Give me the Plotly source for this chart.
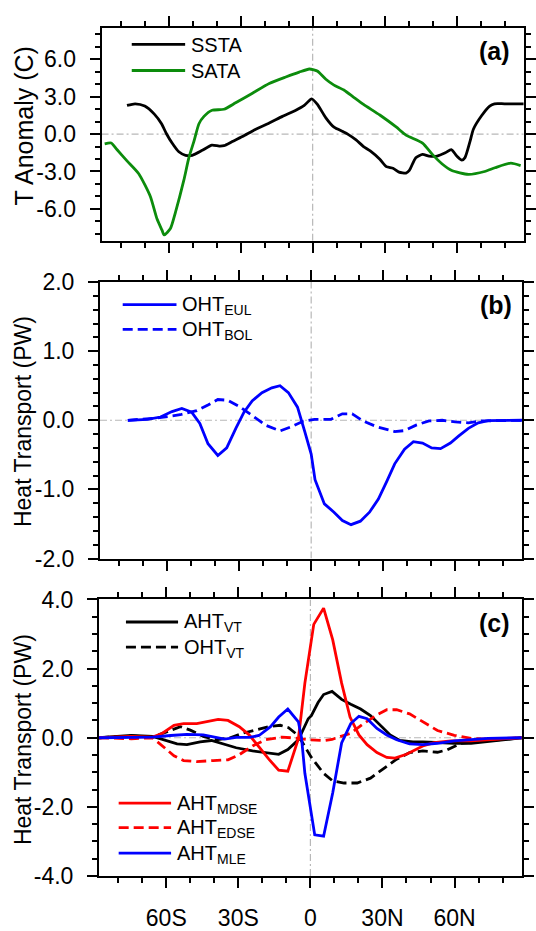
import plotly.graph_objects as go

# ---------------- data ----------------
# Panel (a): temperature anomalies (C)
ssta_lat = [-77.4, -74, -70, -66, -63, -61, -58.6, -55.8, -53, -50.2, -46, -42, -39, -37, -33.5,
            -29.3, -23.7, -18.1, -12.6, -7, -3.5, -0.4, 2.1, 5.5, 8.9, 12.6, 14.6, 18.1, 21.2, 24,
            28, 30.7, 33.5, 36, 38.9, 40.3, 43, 45.8, 48.5, 51.9, 55.3, 57.8, 60.1, 62.2, 63.5,
            65.6, 67, 70.4, 73.8, 75.8, 80, 88]
ssta = [2.3, 2.43, 2.25, 1.6, 0.83, 0.05, -0.72, -1.42, -1.7, -1.7, -1.3, -0.88, -0.96, -0.93, -0.6,
        -0.2, 0.39, 0.88, 1.42, 1.91, 2.3, 2.83, 2.35, 1.3, 0.55, 0.2, 0.0, -0.47, -1.0, -1.35,
        -2.02, -2.61, -2.74, -3.05, -3.13, -2.92, -1.89, -1.63, -1.76, -1.76, -1.5, -1.24, -1.76, -2.09, -1.89,
        -0.59, 0.39, 1.47, 2.25, 2.43, 2.43, 2.43]

sata_lat = [-86.7, -84, -81.6, -77.4, -72.5, -67.7, -64.9, -62.8, -61.9, -59.3, -57.2, -53.7, -51.6,
            -49.5, -47.4, -45.3, -41.9, -37, -32.1, -25.1, -18.1, -11.2, -5.6, -1.4, 0.5, 2.1, 5.5,
            8.9, 13, 17, 21.2, 28, 34.8, 38.9, 45.8, 49.9, 54, 58, 64.9, 71.7, 76, 82.6, 86.7]
sata = [-0.78, -0.72, -1.24, -2.15, -3.18, -4.99, -6.8, -7.71, -8.09, -7.58, -6.28, -3.7, -1.89,
        -0.59, 0.83, 1.42, 1.91, 1.99, 2.51, 3.28, 4.06, 4.58, 4.97, 5.22, 5.15, 5.04, 4.4,
        3.93, 3.54, 2.97, 2.38, 1.53, 0.57, -0.08, -0.72, -1.63, -2.4, -2.92, -3.23, -3.0, -2.7, -2.33, -2.53]

# Panel (b): ocean heat transport (PW)
oht_eul_lat = [-76.4, -68.2, -62.8, -58, -53.9, -49.8, -46.4, -43, -38.9, -35.2, -31.4, -28, -24.6,
               -20.5, -16.4, -13, -9.5, -5.7, -2.7, 0, 1.6, 5.5, 9.5, 13, 16.6, 20.5, 24.3, 28,
               31.4, 34.8, 38.9, 42.6, 46.4, 50.2, 53.9, 58, 61.4, 65.5, 69.6, 73.7, 88]
oht_eul = [0, 0.014, 0.047, 0.126, 0.17, 0.117, -0.047, -0.34, -0.51, -0.4, -0.117, 0.117, 0.28,
           0.4, 0.47, 0.5, 0.4, 0.19, -0.16, -0.49, -0.86, -1.21, -1.33, -1.45, -1.51, -1.46, -1.33, -1.14,
           -0.89, -0.63, -0.42, -0.31, -0.33, -0.4, -0.41, -0.33, -0.23, -0.117, -0.037, -0.005, 0]

oht_bol_lat = [-76.4, -64.1, -54.6, -47.7, -43, -38.9, -34.8, -30, -24.6, -19.1, -13, -8.2, -3.4,
               1.4, 8.2, 13, 17.1, 21.8, 27.3, 34.8, 38.9, 43.7, 49.1, 54.6, 60, 65.5, 70.9, 88]
oht_bol = [0, 0.033, 0.08, 0.14, 0.22, 0.3, 0.29, 0.2, 0.07, -0.07, -0.154, -0.093, -0.014,
           0.014, 0.014, 0.093, 0.093, -0.014, -0.093, -0.163, -0.15, -0.07, -0.009, 0, -0.023, -0.037, -0.01, 0]

# Panel (c): atmosphere / ocean heat transport (PW)
aht_vt_lat = [-88, -74.6, -65.7, -60.9, -55.5, -51.4, -45.9, -41.2, -36.4, -30.9, -24.1, -18.7, -13.2,
              -9.4, -5, -0.9, 0.4, 3.2, 5.5, 9, 13, 16.8, 20.9, 25, 29.1, 33.2, 37.2, 42.7, 46.8,
              52.9, 59.9, 66.9, 73.9, 80.9, 88]
aht_vt = [0, 0.065, 0.04, -0.06, -0.18, -0.2, -0.12, -0.08, -0.18, -0.29, -0.38, -0.43, -0.48,
          -0.34, -0.06, 0.55, 0.64, 1.02, 1.25, 1.34, 1.11, 0.97, 0.83, 0.64, 0.36, 0.08, -0.08, -0.12, -0.12,
          -0.14, -0.16, -0.16, -0.11, -0.04, 0]

oht_vt_lat = [-88, -74.6, -65.7, -59.6, -54.1, -50, -44.6, -39.1, -33.7, -28.2, -22.7, -17.3, -12.5,
              -9.1, -5, 0.4, 5.5, 9.3, 14, 19.5, 25, 30.4, 35.9, 41.3, 46.8, 52.9, 57, 62.7, 69.7, 78.1, 88]
oht_vt = [0, 0.05, 0.02, 0.18, 0.32, 0.22, 0.04, -0.06, -0.01, 0.13, 0.22, 0.32, 0.36,
          0.29, 0.06, -0.57, -1.03, -1.25, -1.31, -1.31, -1.17, -0.9, -0.62, -0.43, -0.38, -0.42, -0.35, -0.16, -0.11, -0.065, 0]

aht_mdse_lat = [-88, -74.6, -65.7, -61.6, -56.8, -52.8, -47.3, -43.2, -38.4, -34.3, -29.6, -25.5, -21.4,
                -17.3, -13.2, -9.4, -5, -2.3, 1.4, 5.5, 9.3, 13, 16.5, 20.2, 23.6, 27.7, 31.8, 35.2,
                40, 46.8, 51.5, 58.5, 66.9, 73.9, 88]
aht_mdse = [0, 0.04, 0.02, 0.13, 0.36, 0.41, 0.41, 0.46, 0.53, 0.5, 0.32, 0.084, -0.27,
            -0.62, -0.94, -0.97, -0.03, 1.58, 3.28, 3.75, 2.83, 1.58, 0.6, 0.08, -0.2, -0.43, -0.57, -0.59,
            -0.48, -0.24, -0.14, -0.09, -0.09, -0.065, 0]

aht_edse_lat = [-88, -74.6, -65.7, -60.9, -56.8, -52.8, -47.3, -40.5, -34.3, -29.6, -24.1, -18.7, -11.8,
                -6.4, 0, 5.9, 9, 12.7, 16.8, 22.2, 27.7, 31.8, 35.9, 41.3, 46.8, 52.9, 59.9, 66.9, 73.9, 88]
aht_edse = [0, -0.03, 0, -0.29, -0.52, -0.66, -0.69, -0.66, -0.64, -0.49, -0.24, -0.06, 0.02,
            -0.01, -0.06, -0.08, -0.05, 0.04, 0.13, 0.41, 0.66, 0.81, 0.81, 0.69, 0.46, 0.21, 0.07, -0.02, -0.04, 0]

aht_mle_lat = [-88, -74.6, -65.7, -58.2, -51.4, -44.6, -40.5, -35.7, -30.9, -25.5, -21.4, -16.6, -13.2,
               -9.4, -5, -3.7, -2.3, 1.8, 5.5, 9.3, 13, 16.8, 20.2, 23.6, 27.7, 31.8, 35.9, 41.3, 46.8,
               52.9, 59.9, 66.9, 73.9, 88]
aht_mle = [0, 0, 0.02, 0.065, 0.1, 0.08, 0.02, -0.04, 0.01, 0.01, 0.065, 0.32, 0.6,
           0.83, 0.46, 0, -1.03, -2.81, -2.85, -1.59, -0.15, 0.41, 0.62, 0.55, 0.27, 0.08, -0.06, -0.18, -0.2,
           -0.16, -0.09, -0.065, -0.02, 0]

x_tickvals = [-60, -30, 0, 30, 60]
x_ticktext = ["60S", "30S", "0", "30N", "60N"]
x_minor = [-80, -70, -50, -40, -20, -10, 10, 20, 40, 50, 70, 80]

ya_tickvals = [-6, -3, 0, 3, 6]
ya_ticktext = ["-6.0", "-3.0", "0.0", "3.0", "6.0"]
yb_tickvals = [-2, -1, 0, 1, 2]
yb_ticktext = ["-2.0", "-1.0", "0.0", "1.0", "2.0"]
yc_tickvals = [-4, -2, 0, 2, 4]
yc_ticktext = ["-4.0", "-2.0", "0.0", "2.0", "4.0"]

# ---------------- figure ----------------
W, H = 536, 931
FONT = "Liberation Sans, Arial, Helvetica, sans-serif"
GREEN = "#0c8c0c"
DASH = "10px,5px"
LW = 2.8

def px_x(v):
    return v / W

def px_y(v):
    return 1 - v / H

fig = go.Figure()

def add(x, y, ax, color, dash=None, shape="linear"):
    fig.add_trace(go.Scatter(
        x=x, y=y, mode="lines", xaxis="x" + ax, yaxis="y" + ax,
        line=dict(color=color, width=LW, dash=dash if dash else "solid", shape=shape,
                  smoothing=0.6 if shape == "spline" else None),
        hoverinfo="skip", showlegend=False))

add(ssta_lat, ssta, "", "black", shape="spline")
add(sata_lat, sata, "", GREEN, shape="spline")
add(oht_eul_lat, oht_eul, "2", "blue")
add(oht_bol_lat, oht_bol, "2", "blue", dash=DASH)
add(aht_vt_lat, aht_vt, "3", "black")
add(oht_vt_lat, oht_vt, "3", "black", dash=DASH)
add(aht_mdse_lat, aht_mdse, "3", "red")
add(aht_edse_lat, aht_edse, "3", "red", dash=DASH)
add(aht_mle_lat, aht_mle, "3", "blue")

def xaxis(domain, anchor, labels):
    return dict(domain=domain, anchor=anchor, range=[-88, 88],
                showline=True, linewidth=2, linecolor="black", mirror="allticks",
                ticks="outside", ticklen=10, tickwidth=1.6, tickcolor="black",
                tickmode="array", tickvals=x_tickvals, ticktext=x_ticktext,
                showticklabels=labels, ticklabelstandoff=10,
                tickfont=dict(family=FONT, size=23, color="black"),
                showgrid=False, zeroline=False,
                minor=dict(tickmode="array", tickvals=x_minor, ticks="outside", ticklen=5,
                           tickwidth=1.6, tickcolor="black", showgrid=False))

def yaxis(domain, anchor, rng, tv, tt, mdt):
    return dict(domain=domain, anchor=anchor, range=rng,
                showline=True, linewidth=2, linecolor="black", mirror="allticks",
                ticks="outside", ticklen=10, tickwidth=1.6, tickcolor="black",
                tickmode="array", tickvals=tv, ticktext=tt, ticklabelstandoff=9,
                tickfont=dict(family=FONT, size=23, color="black"),
                showgrid=False, zeroline=False,
                minor=dict(dtick=mdt, tick0=0, ticks="outside", ticklen=5,
                           tickwidth=1.6, tickcolor="black", showgrid=False))

dom_a_x = [px_x(103.3), px_x(532.7)]
dom_b_x = [px_x(101.7), px_x(531.3)]
dom_c_x = [px_x(100.7), px_x(530.7)]
dom_a_y = [px_y(235.5), px_y(15)]
dom_b_y = [px_y(564.3), px_y(278.3)]
dom_c_y = [px_y(892.7), px_y(606.7)]

fig.update_layout(
    width=W, height=H, margin=dict(l=0, r=0, t=0, b=0),
    paper_bgcolor="white", plot_bgcolor="white", showlegend=False,
    font=dict(family=FONT, color="black"),
    xaxis=xaxis(dom_a_x, "y", False),
    xaxis2=xaxis(dom_b_x, "y2", False),
    xaxis3=xaxis(dom_c_x, "y3", True),
    yaxis=yaxis(dom_a_y, "x", [-8.55, 8.55], ya_tickvals, ya_ticktext, 1),
    yaxis2=yaxis(dom_b_y, "x2", [-2, 2], yb_tickvals, yb_ticktext, 0.2),
    yaxis3=yaxis(dom_c_y, "x3", [-4, 4], yc_tickvals, yc_ticktext, 0.5),
)

# zero reference lines
shapes = []
for ax, (y0, y1) in [("", (-8.55, 8.55)), ("2", (-2, 2)), ("3", (-4, 4))]:
    xr = "x" + ax
    yr = "y" + ax
    shapes.append(dict(type="line", xref=xr, yref=yr, x0=-88, x1=88, y0=0, y1=0, layer="below",
                       line=dict(color="#b8b8b8", width=1.2, dash="7px,3px,2px,3px")))
    shapes.append(dict(type="line", xref=xr, yref=yr, x0=0, x1=0, y0=y0, y1=y1, layer="below",
                       line=dict(color="#b8b8b8", width=1.2, dash="7px,3px,2px,3px")))

# legend sample lines + text (manual, per panel)
legend_items = [
    # x0, x1, y, color, dash, text_x, text
    (134, 188.3, 32.5, "black", None, 192, "SSTA"),
    (134, 188.3, 59.5, GREEN, None, 192, "SATA"),
    (124.8, 179.5, 301.7, "blue", None, 183.5, "OHT<sub>EUL</sub>"),
    (124.8, 179.5, 327.3, "blue", DASH, 183.5, "OHT<sub>BOL</sub>"),
    (128.1, 181.1, 630, "black", None, 185.5, "AHT<sub>VT</sub>"),
    (128.1, 181.1, 656, "black", DASH, 185.5, "OHT<sub>VT</sub>"),
    (120.7, 174, 817.3, "red", None, 177.5, "AHT<sub>MDSE</sub>"),
    (120.7, 174, 842.7, "red", DASH, 177.5, "AHT<sub>EDSE</sub>"),
    (120.7, 174, 869, "blue", None, 177.5, "AHT<sub>MLE</sub>"),
]
annotations = []
for x0, x1, yy, col, dash, tx, txt in legend_items:
    shapes.append(dict(type="line", xref="paper", yref="paper",
                       x0=px_x(x0), x1=px_x(x1), y0=px_y(yy), y1=px_y(yy),
                       line=dict(color=col, width=LW, dash=dash if dash else "solid")))
    annotations.append(dict(xref="paper", yref="paper", x=px_x(tx), y=px_y(yy + 1),
                            xanchor="left", yanchor="middle", showarrow=False, text=txt,
                            font=dict(family=FONT, size=20, color="black")))

# panel labels
for lab, cx, cy in [("(a)", 503, 39), ("(b)", 504, 302.5), ("(c)", 503, 631)]:
    annotations.append(dict(xref="paper", yref="paper", x=px_x(cx), y=px_y(cy),
                            xanchor="center", yanchor="middle", showarrow=False,
                            text="<b>%s</b>" % lab,
                            font=dict(family=FONT, size=25, color="black")))

# y-axis titles
for txt, cy, fs in [("T Anomaly (C)", 116.7, 25), ("Heat Transport (PW)", 422.5, 23),
                    ("Heat Transport (PW)", 751.5, 23)]:
    annotations.append(dict(xref="paper", yref="paper", x=px_x(24), y=px_y(cy),
                            xanchor="center", yanchor="middle", showarrow=False, textangle=-90,
                            text=txt, font=dict(family=FONT, size=fs, color="black")))

fig.update_layout(shapes=shapes, annotations=annotations)

fig.write_html("out.html")
